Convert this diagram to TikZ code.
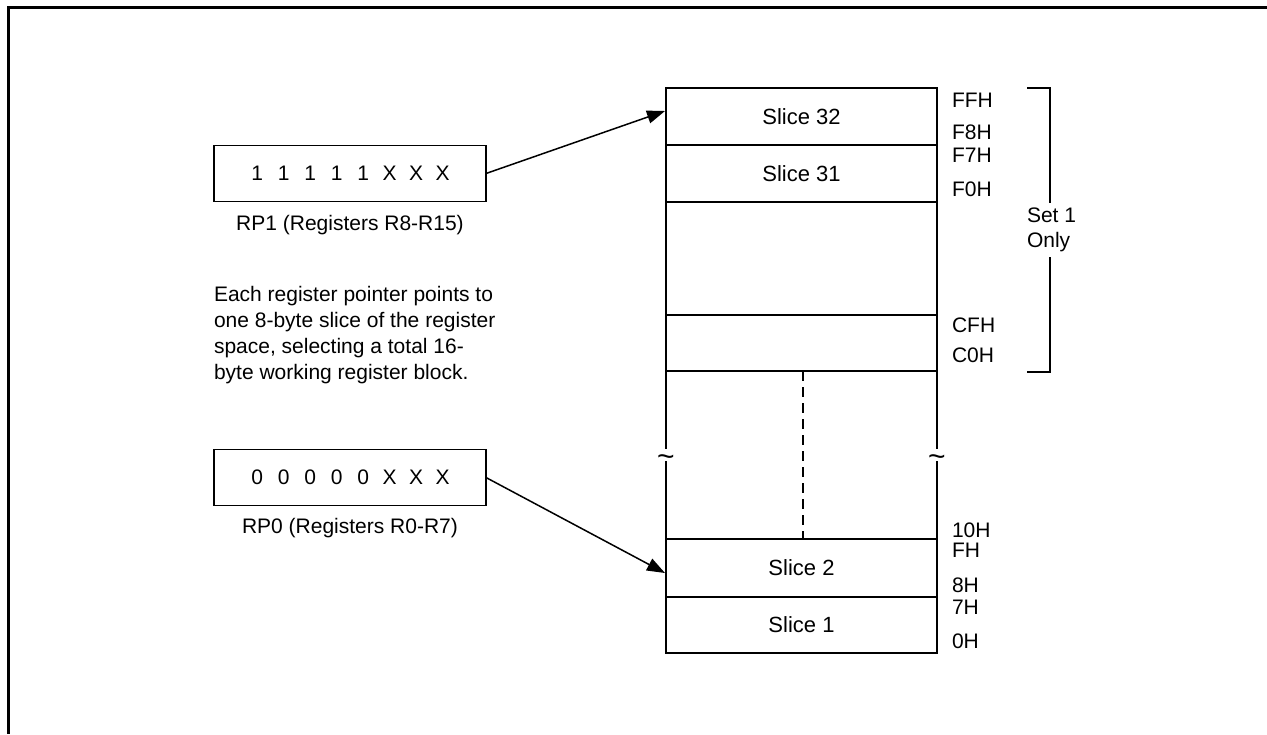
\documentclass[tikz,border=0pt]{standalone}
\usepackage{fontspec}
\setmainfont{Liberation Sans}
\usetikzlibrary{arrows.meta}
\newcommand{\bitc}[1]{\makebox[26.5pt]{#1}}
\begin{document}
\begin{tikzpicture}[x=1pt,y=-1pt,
  every node/.style={font=\fontsize{21}{25}\selectfont, inner sep=0pt, outer sep=0pt},
  cell/.style={draw, line width=1.5pt, minimum width=271pt, anchor=north west, font=\fontsize{22}{26}\selectfont},
  regbox/.style={draw, line width=1.5pt, minimum width=272pt, minimum height=56pt},
  addr/.style={anchor=west},
  colline/.style={line width=1.5pt},
  tildemark/.style={font=\fontsize{30}{32}\selectfont},
  ptr/.style={line width=1.5pt, -{Triangle[length=18pt,width=13pt]}},
  frameline/.style={line width=3pt}]
\useasboundingbox (0,0) rectangle (1267,734);
% frame
\draw[frameline] (1267,7) -- (8,7) -- (8,734);
% memory column
\node[cell, minimum height=57pt] (s32) at (666,88) {Slice 32};
\node[cell, minimum height=57pt] (s31) at (666,145) {Slice 31};
\node[cell, minimum height=113pt] (blank) at (666,202) {};
\node[cell, minimum height=56pt] (cf) at (666,315) {};
\node[cell, minimum height=58pt] (s2) at (666,539) {Slice 2};
\node[cell, minimum height=56pt] (s1) at (666,597) {Slice 1};
% broken sides
\draw[colline] (cf.south west) -- (666,449);
\draw[colline] (666,461) -- (s2.north west);
\draw[colline] (cf.south east) -- (937,449);
\draw[colline] (937,461) -- (s2.north east);
\node[tildemark] (tl) at (666,461) {\textasciitilde};
\node[tildemark] (tr) at (937,461) {\textasciitilde};
\draw[colline, dash pattern=on 10pt off 6pt] (803,371) -- (803,539);
% addresses
\node[addr] (a1) at (952,100) {FFH};
\node[addr] (a2) at (952,132) {F8H};
\node[addr] (a3) at (952,155) {F7H};
\node[addr] (a4) at (952,189) {F0H};
\node[addr] (a5) at (952,325) {CFH};
\node[addr] (a6) at (952,355) {C0H};
\node[addr] (a7) at (952,530) {10H};
\node[addr] (a8) at (952,550) {FH};
\node[addr] (a9) at (952,585) {8H};
\node[addr] (a10) at (952,607) {7H};
\node[addr] (a11) at (952,641) {0H};
% bracket
\draw[colline] (1027,88) -- (1050,88) -- (1050,203);
\draw[colline] (1050,257) -- (1050,372) -- (1027,372);
\node[anchor=west, align=left] (set1) at (1027,230) {Set 1\\Only};
% register pointers
\node[regbox] (rp1) at (350,173.5) {\bitc{1}\bitc{1}\bitc{1}\bitc{1}\bitc{1}\bitc{X}\bitc{X}\bitc{X}};
\node (rp1l) at (350,225) {RP1 (Registers R8-R15)};
\node[regbox] (rp0) at (350,477.5) {\bitc{0}\bitc{0}\bitc{0}\bitc{0}\bitc{0}\bitc{X}\bitc{X}\bitc{X}};
\node (rp0l) at (350,528) {RP0 (Registers R0-R7)};
\node[anchor=north west, align=left, font=\fontsize{21}{26}\selectfont] (note) at (214,286)
  {Each register pointer points to\\one 8-byte slice of the register\\space, selecting a total 16-\\byte working register block.};
% arrows
\coordinate (p32) at (665,111);
\coordinate (p2) at (665,573);
\draw[ptr] (rp1.east) -- (p32);
\draw[ptr] (rp0.east) -- (p2);
\end{tikzpicture}
\end{document}
